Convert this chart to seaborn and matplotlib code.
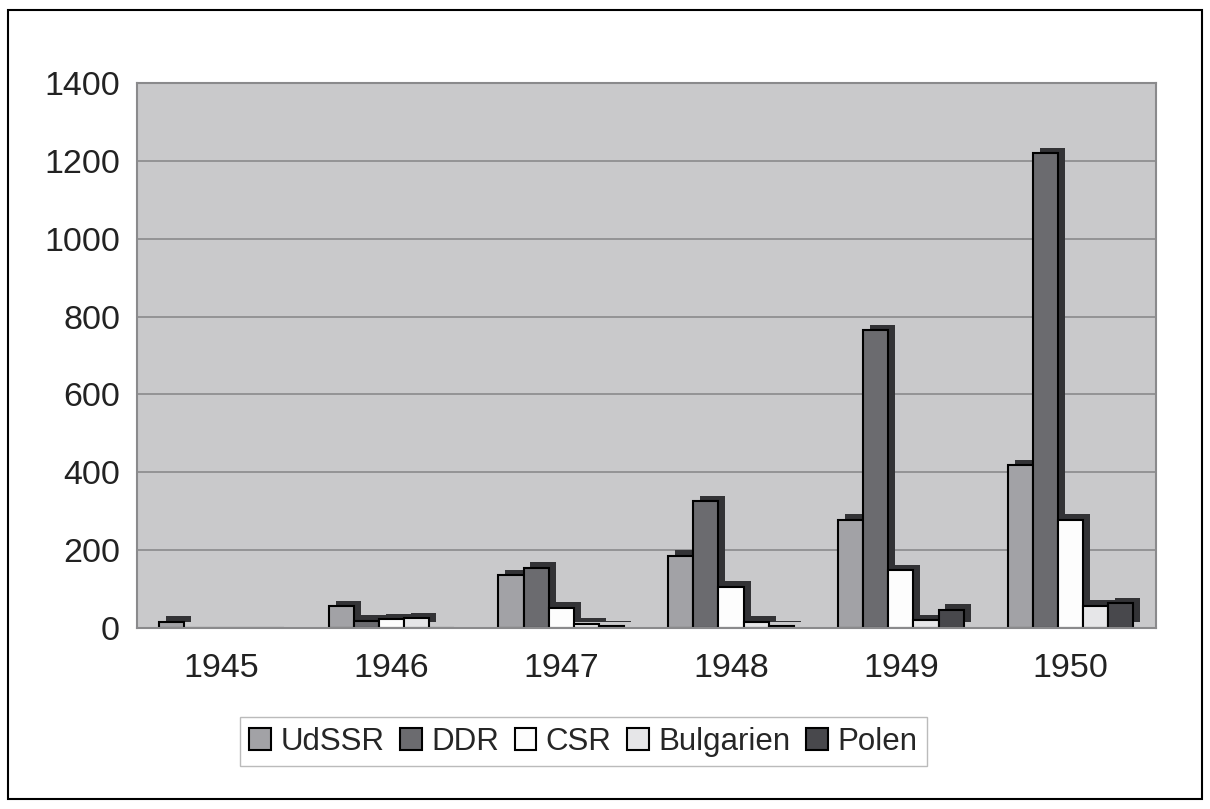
import pandas as pd
import seaborn as sns
import matplotlib.pyplot as plt
import matplotlib.patheffects as pe

# Daten
jahre = ['1945', '1946', '1947', '1948', '1949', '1950']
udssr = [15, 55, 135, 185, 278, 418]
ddr = [0, 18, 155, 325, 765, 1220]
csr = [0, 22, 52, 105, 148, 278]
bulgarien = [0, 25, 11, 15, 19, 57]
polen = [0, 0, 4, 4, 47, 63]

laender = ['UdSSR', 'DDR', 'CSR', 'Bulgarien', 'Polen']
farben = ['#a2a2a6', '#6b6b6f', '#fdfdfd', '#e6e6e8', '#48484c']

reihen = [udssr, ddr, csr, bulgarien, polen]
zeilen = []
for land, werte in zip(laender, reihen):
    for jahr, w in zip(jahre, werte):
        zeilen.append({'Jahr': jahr, 'Land': land, 'Wert': w})
df = pd.DataFrame(zeilen)

sns.set_style('white')
plt.rcParams['font.family'] = ['Liberation Sans', 'DejaVu Sans']

fig = plt.figure(figsize=(12.10, 8.09), dpi=100)
ax = fig.add_axes([0.113, 0.224, 0.842, 0.673])
ax.set_facecolor('#c9c9cb')

sns.barplot(data=df, x='Jahr', y='Wert', hue='Land', hue_order=laender,
            palette=farben, width=0.74, edgecolor='black', linewidth=1.5,
            saturation=1, ax=ax, legend=True)

# Tiefe der Balken andeuten (3D-Effekt)
for bar in ax.patches:
    if bar.get_height() > 0:
        bar.set_path_effects([pe.SimplePatchShadow(offset=(5, 4), shadow_rgbFace='#333336', alpha=1),
                              pe.Normal()])

ax.set_ylim(0, 1400)
ax.set_yticks(range(0, 1401, 200))
ax.yaxis.grid(True, color='#8a8a8c', linewidth=1.2)
ax.set_axisbelow(True)
ax.set_xlabel('')
ax.set_ylabel('')
ax.tick_params(axis='both', labelsize=24.5, colors='#222222', length=6, width=1, pad=6)
ax.tick_params(axis='x', length=0, pad=18)
# Striche zwischen den Jahren wie im Original
ax.set_xticks([i - 0.5 for i in range(len(jahre) + 1)], minor=True)
ax.tick_params(axis='x', which='minor', length=10, width=1, color='#8a8a8c')
for s in ax.spines.values():
    s.set_color('#8a8a8c')
    s.set_linewidth(1.5)

handles, labels = ax.get_legend_handles_labels()
ax.legend_.remove()
leg = fig.legend(handles, labels, loc='center', bbox_to_anchor=(0.482, 0.083), ncol=5,
                 fontsize=22.5, frameon=True, fancybox=False, edgecolor='#aaaaaa',
                 handlelength=0.7, handleheight=0.7, handletextpad=0.3,
                 columnspacing=0.5, borderpad=0.3)

# Rahmen um die ganze Grafik
fig.patches.append(plt.Rectangle((0.007, 0.012), 0.986, 0.976, transform=fig.transFigure,
                                 fill=False, edgecolor='black', linewidth=1.5))

fig.savefig('out.png', dpi=100)
